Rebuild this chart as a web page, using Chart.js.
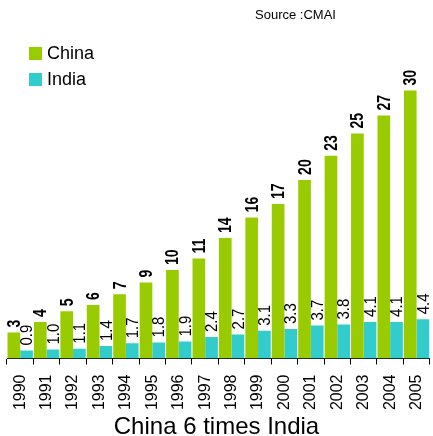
<!DOCTYPE html>
<html>
<head>
<meta charset="utf-8">
<script src="https://cdn.jsdelivr.net/npm/chart.js@4.4.0/dist/chart.umd.min.js"></script>
<style>
html,body{margin:0;padding:0;background:#fff;overflow:hidden;}
#wrap{position:relative;width:433px;height:436px;overflow:hidden;font-family:"Liberation Sans",Arial,sans-serif;color:#000;}
#c{position:absolute;left:0;top:0;}
.src{position:absolute;left:255px;top:7px;font-size:13px;white-space:nowrap;}
.box{position:absolute;left:29px;width:13px;height:13px;}
.lab{position:absolute;left:47px;font-size:18px;line-height:18px;white-space:nowrap;}
</style>
</head>
<body>
<div id="wrap">
  <canvas id="c" width="446" height="436"></canvas>
  <div class="src">Source :CMAI</div>
  <div class="box" style="top:47px;background:#99cc00"></div>
  <div class="lab" style="top:44px">China</div>
  <div class="box" style="top:73px;background:#33cccc"></div>
  <div class="lab" style="top:70px">India</div>
</div>
<script>
var years = ['1990','1991','1992','1993','1994','1995','1996','1997','1998','1999','2000','2001','2002','2003','2004','2005'];
var china = [2.9,4.1,5.3,6.0,7.2,8.5,9.9,11.2,13.5,15.8,17.3,20.0,22.7,25.2,27.2,30.0];
var india = [0.9,1.0,1.1,1.4,1.7,1.8,1.9,2.4,2.7,3.1,3.3,3.7,3.8,4.1,4.1,4.4];
var axisTitle = 'China 6 times India';

var FONT = '"Liberation Sans", Arial, sans-serif';

// rotated value labels above each bar, plus the axis caption
var barLabels = {
    id: 'barLabels',
    afterDatasetsDraw: function(chart){
        var ctx = chart.ctx;
        chart.data.datasets.forEach(function(ds, di){
            var meta = chart.getDatasetMeta(di);
            meta.data.forEach(function(bar, i){
                var txt = di == 0 ? String(Math.round(ds.data[i])) : ds.data[i].toFixed(1);
                ctx.save();
                ctx.translate(bar.x + 1, bar.y - 5);
                ctx.rotate(-Math.PI/2);
                if(di == 0){
                    ctx.scale(0.78, 1);
                    ctx.font = 'bold 18px ' + FONT;
                } else {
                    ctx.scale(0.88, 1);
                    ctx.font = '17px ' + FONT;
                }
                ctx.fillStyle = '#000';
                ctx.textAlign = 'left';
                ctx.textBaseline = 'middle';
                ctx.fillText(txt, 0, 0);
                ctx.restore();
            });
        });
    },
    afterDraw: function(chart){
        var ctx = chart.ctx;
        ctx.save();
        ctx.font = '24px ' + FONT;
        ctx.fillStyle = '#000';
        ctx.textAlign = 'center';
        ctx.textBaseline = 'alphabetic';
        ctx.fillText(axisTitle, 216.5, 434);
        ctx.restore();
    }
};

var myChart = new Chart(document.getElementById('c'), {
    type: 'bar',
    data: {
        labels: years,
        datasets: [
            {label: 'China', data: china, backgroundColor: '#99cc00', barPercentage: 1, categoryPercentage: 0.96},
            {label: 'India', data: india, backgroundColor: '#33cccc', barPercentage: 1, categoryPercentage: 0.96}
        ]
    },
    options: {
        responsive: false,
        animation: false,
        layout: {padding: {top: 37, left: 7, right: 7, bottom: 0}},
        plugins: {legend: {display: false}, tooltip: {enabled: false}},
        scales: {
            x: {
                grid: {display: true, drawOnChartArea: false, drawTicks: true, tickLength: 6, color: '#000', offset: true},
                border: {display: true, color: '#000', width: 1},
                ticks: {color: '#000', font: {family: FONT, size: 16}, minRotation: 90, maxRotation: 90, padding: 10, autoSkip: false},
                afterFit: function(scale){ scale.height = 77.5; }
            },
            y: {display: false, min: 0, max: 36}
        }
    },
    plugins: [barLabels]
});
</script>
</body>
</html>
